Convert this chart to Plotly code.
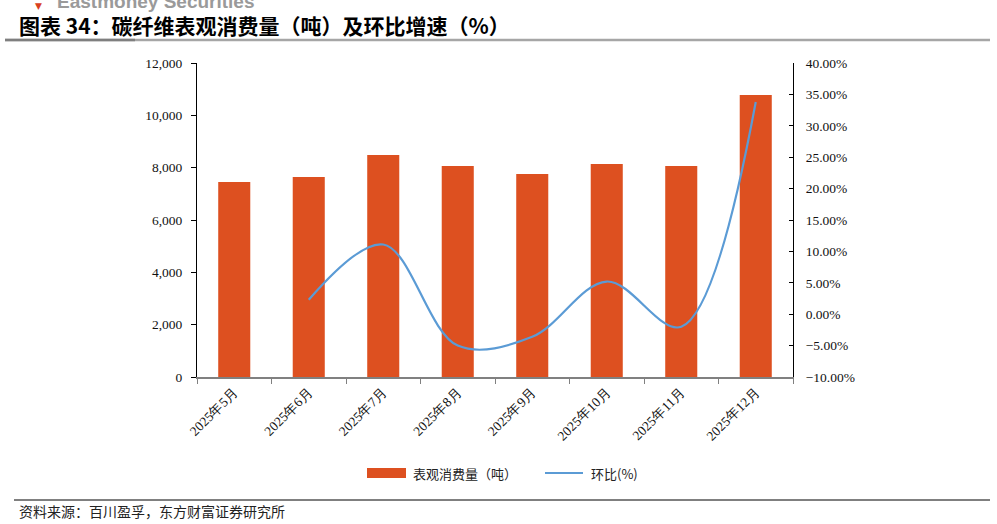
import plotly.graph_objects as go

months = ["2025年5月", "2025年6月", "2025年7月", "2025年8月", "2025年9月", "2025年10月", "2025年11月", "2025年12月"]
consumption = [7450, 7640, 8480, 8060, 7760, 8140, 8060, 10780]
mom_months = months[1:]
mom_pct = [0.023, 0.111, -0.050, -0.036, 0.052, -0.020, 0.338]
bar_name = "表观消费量（吨）"
line_name = "环比(%)"

W, H = 997, 524
L, R, T, B = 197, 793, 63, 377
pw, ph = R - L, B - T

def px(x):
    return (x - L) / pw

def py(y):
    return (B - y) / ph

serif = "Liberation Serif"
bar_color = "#DD5020"
line_color = "#5B9BD5"

fig = go.Figure()
fig.add_trace(go.Bar(
    x=months, y=consumption, name=bar_name,
    marker=dict(color=bar_color, line=dict(width=0)),
    yaxis="y",
))
fig.add_trace(go.Scatter(
    x=mom_months, y=mom_pct, name=line_name, mode="lines",
    line=dict(color=line_color, width=2.2, shape="spline", smoothing=1.0),
    yaxis="y2",
))

fig.update_layout(
    width=W, height=H,
    margin=dict(l=L, r=W - R, t=T, b=H - B, pad=0),
    paper_bgcolor="white", plot_bgcolor="white",
    bargap=0.57,
    showlegend=False,
    xaxis=dict(
        type="category", tickson="boundaries", ticks="outside", ticklen=5,
        tickcolor="#808080", showline=True, linecolor="#808080", linewidth=1.5,
        tickangle=-45, tickfont=dict(family=serif, size=13.5, color="#111"),
        showgrid=False, zeroline=False,
    ),
    yaxis=dict(
        range=[0, 12000], dtick=2000, tickformat=",", showgrid=False, zeroline=False,
        showline=True, linecolor="black", linewidth=1, ticks="outside", ticklen=5,
        tickcolor="black", tickfont=dict(family=serif, size=13.5, color="#111"),
        ticklabelstandoff=6,
    ),
    yaxis2=dict(
        overlaying="y", side="right", range=[-0.10, 0.40], dtick=0.05,
        tickformat=".2%", showgrid=False, zeroline=False,
        showline=True, linecolor="black", linewidth=1, ticks="inside", ticklen=4,
        tickcolor="black", tickfont=dict(family=serif, size=13.5, color="#111"),
        ticklabelstandoff=9,
    ),
)

annotations = [
    dict(text="<b>图表 34：碳纤维表观消费量（吨）及环比增速（%）</b>", x=px(17), y=py(25),
         xref="paper", yref="paper", xanchor="left", yanchor="middle", showarrow=False,
         font=dict(family="Noto Sans CJK SC", size=21, color="black")),
    dict(text="<b>Eastmoney Securities</b>", x=px(55), y=py(1),
         xref="paper", yref="paper", xanchor="left", yanchor="middle", showarrow=False,
         font=dict(family="Liberation Sans, Arial", size=19, color="#9a9a9a")),
    dict(text="▼", x=px(33), y=py(6),
         xref="paper", yref="paper", xanchor="left", yanchor="middle", showarrow=False,
         font=dict(family="DejaVu Sans", size=9, color="#d9411e")),
    dict(text="资料来源：百川盈孚，东方财富证券研究所", x=px(17), y=py(511),
         xref="paper", yref="paper", xanchor="left", yanchor="middle", showarrow=False,
         font=dict(family="Noto Sans CJK SC", size=14, color="#222")),
    dict(text=bar_name, x=px(411), y=py(473),
         xref="paper", yref="paper", xanchor="left", yanchor="middle", showarrow=False,
         font=dict(family="Noto Sans CJK SC", size=13, color="#222")),
    dict(text=line_name, x=px(589), y=py(473),
         xref="paper", yref="paper", xanchor="left", yanchor="middle", showarrow=False,
         font=dict(family="Noto Sans CJK SC", size=13, color="#222")),
]
fig.update_layout(annotations=annotations)

shapes = [
    dict(type="line", xref="paper", yref="paper", x0=px(5), x1=px(990), y0=py(40), y1=py(40),
         line=dict(color="#a6a6a6", width=2.5)),
    dict(type="line", xref="paper", yref="paper", x0=px(5), x1=px(135), y0=py(40), y1=py(40),
         line=dict(color="#7f7f7f", width=2.5)),
    dict(type="line", xref="paper", yref="paper", x0=px(14), x1=px(990), y0=py(500), y1=py(500),
         line=dict(color="black", width=1)),
    # legend swatches
    dict(type="rect", xref="paper", yref="paper", x0=px(367), x1=px(406), y0=py(468), y1=py(478),
         fillcolor=bar_color, line=dict(width=0)),
    dict(type="line", xref="paper", yref="paper", x0=px(545), x1=px(583), y0=py(473), y1=py(473),
         line=dict(color=line_color, width=2.2)),
]
fig.update_layout(shapes=shapes)

fig.write_html("out.html")
